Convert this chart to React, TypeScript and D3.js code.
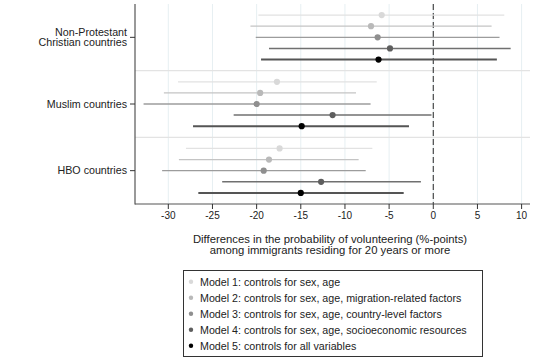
import React from "react";
import * as d3 from "d3";

const groups = ["Non-Protestant\nChristian countries", "Muslim countries", "HBO countries"];
const models = [
  "Model 1: controls for sex, age",
  "Model 2: controls for sex, age, migration-related factors",
  "Model 3: controls for sex, age, country-level factors",
  "Model 4: controls for sex, age, socioeconomic resources",
  "Model 5: controls for all variables",
];
// estimates [group][model]
const estimates = [
  [-5.84, -7.05, -6.3, -4.9, -6.2],
  [-17.7, -19.6, -20.0, -11.4, -14.9],
  [-17.4, -18.6, -19.2, -12.7, -15.0],
];
const lower = [
  [-19.8, -20.7, -20.1, -18.6, -19.5],
  [-28.9, -30.5, -32.8, -22.6, -27.2],
  [-28.0, -28.8, -30.7, -23.9, -26.6],
];
const upper = [
  [8.04, 6.6, 7.5, 8.76, 7.2],
  [-6.4, -8.75, -7.1, -0.2, -2.75],
  [-6.9, -8.45, -7.65, -1.4, -3.35],
];
const xTicks = [-30, -25, -20, -15, -10, -5, 0, 5, 10];

const dotColors = ["#d9d9d9", "#b9b9b9", "#8f8f8f", "#5e5e5e", "#000000"];
const lineColors = ["#e2e2e2", "#c4c4c4", "#9c9c9c", "#707070", "#555555"];
const lineWidths = [1.2, 1.2, 1.3, 1.5, 2];

export default function App() {
  const W = 543, H = 361;
  const left = 135, right = 530, top = 4, bottom = 204;
  const x = d3.scaleLinear().domain([-33.77, 10.95]).range([left, right]);
  const y = d3.scaleLinear().domain([0, 18]).range([top, bottom]);
  const font = "Liberation Sans, Arial, sans-serif";

  const rows: any[] = [];
  estimates.forEach((g, gi) =>
    g.forEach((v, mi) => {
      rows.push({ gi, mi, v, lo: lower[gi][mi], hi: upper[gi][mi], pos: gi * 6 + mi + 1 });
    })
  );

  return (
    <svg width={W} height={H} style={{ position: "absolute", left: 0, top: 0, background: "#fff" }}
      fontFamily={font}>
      {/* vertical gridlines */}
      {xTicks.map((t) => (
        <line key={"g" + t} x1={x(t)} x2={x(t)} y1={top} y2={bottom} stroke="#e6eff2" strokeWidth={1} />
      ))}
      {/* group dividers */}
      {[6, 12].map((p) => (
        <line key={"d" + p} x1={left} x2={right} y1={y(p)} y2={y(p)} stroke="#e3e3e3" strokeWidth={1.2} />
      ))}
      {/* zero line */}
      <line x1={x(0)} x2={x(0)} y1={top} y2={bottom} stroke="#3a3a3a" strokeWidth={1.1} strokeDasharray="6,3" />
      {/* CIs */}
      {rows.map((r) => (
        <line key={"l" + r.gi + r.mi} x1={x(r.lo)} x2={x(r.hi)} y1={y(r.pos)} y2={y(r.pos)}
          stroke={lineColors[r.mi]} strokeWidth={lineWidths[r.mi]} />
      ))}
      {rows.map((r) => (
        <circle key={"c" + r.gi + r.mi} cx={x(r.v)} cy={y(r.pos)} r={3.1} fill={dotColors[r.mi]} />
      ))}
      {/* axes */}
      <line x1={left} x2={left} y1={top} y2={bottom + 0.5} stroke="#555" strokeWidth={1.2} />
      <line x1={left} x2={right} y1={bottom} y2={bottom} stroke="#555" strokeWidth={1.2} />
      {xTicks.map((t) => (
        <g key={"t" + t}>
          <line x1={x(t)} x2={x(t)} y1={bottom} y2={bottom + 5} stroke="#333" strokeWidth={1} />
          <text x={x(t)} y={bottom + 15} fontSize={10} textAnchor="middle" fill="#222">{t}</text>
        </g>
      ))}
      {groups.map((g, gi) => {
        const cy = y(gi * 6 + 3);
        const lines = g.split("\n");
        return (
          <g key={"yl" + gi}>
            <line x1={left - 5} x2={left} y1={cy} y2={cy} stroke="#333" strokeWidth={1} />
            {lines.map((ln, li) => (
              <text key={li} x={left - 8} y={cy + 3.8 + (li - (lines.length - 1) / 2) * 10.5}
                fontSize={10.7} textAnchor="end" fill="#222">{ln}</text>
            ))}
          </g>
        );
      })}
      <text x={330} y={242.5} fontSize={11.3} textAnchor="middle" fill="#222">
        Differences in the probability of volunteering (%-points)
      </text>
      <text x={330} y={254} fontSize={11.3} textAnchor="middle" fill="#222">
        among immigrants residing for 20 years or more
      </text>
      {/* legend */}
      <rect x={183.5} y={270.5} width={299} height={86} fill="#fff" stroke="#333" strokeWidth={1} />
      {models.map((m, i) => (
        <g key={"lg" + i}>
          <circle cx={191} cy={285.5 + i * 16 - 3.7} r={2.2} fill={dotColors[i]} />
          <text x={200} y={285.5 + i * 16} fontSize={10.7} fill="#222">{m}</text>
        </g>
      ))}
    </svg>
  );
}
